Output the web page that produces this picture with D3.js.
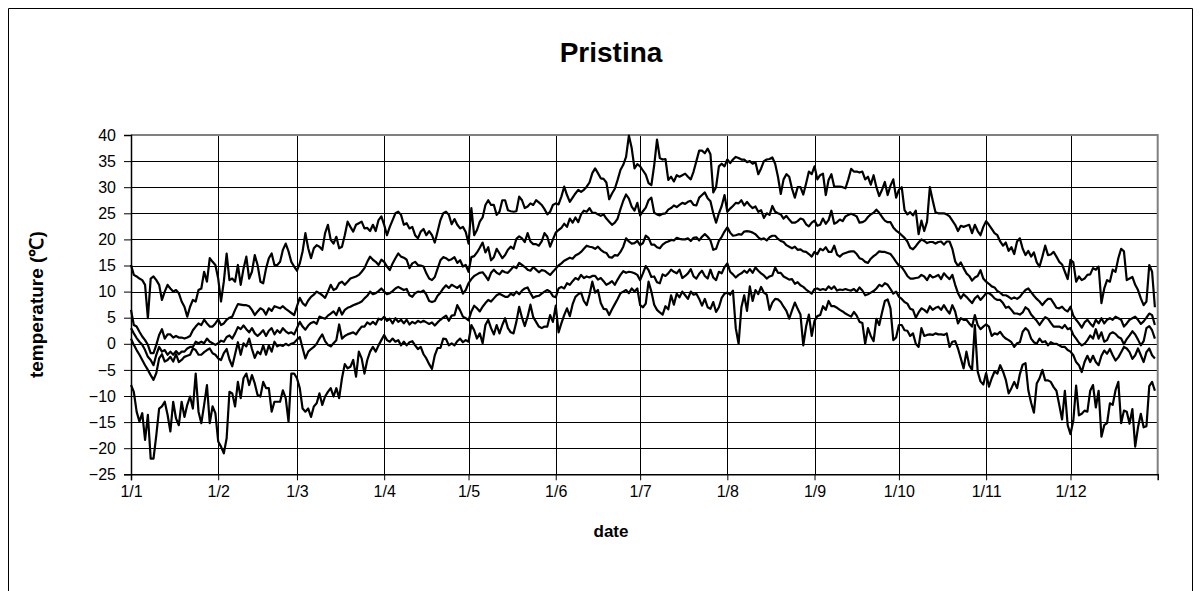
<!DOCTYPE html>
<html><head><meta charset="utf-8">
<script src="https://cdn.jsdelivr.net/npm/d3@7"></script>
<style>body{margin:0;background:#fff}svg{display:block}text{font-family:Arial,"Liberation Sans",sans-serif;fill:#000}</style>
</head><body><svg id="c" width="1202" height="591"></svg>
<script>
const chartTitle = "Pristina";
const xTitle = "date";
const yTitle = "temperature (℃)";
const monthLabels = ["1/1","1/2","1/3","1/4","1/5","1/6","1/7","1/8","1/9","1/10","1/11","1/12"];
const monthStartDays = [0,31,59,90,120,151,181,212,243,273,304,334];
const yTicks = [-25,-20,-15,-10,-5,0,5,10,15,20,25,30,35,40];

const recordHigh = [
15.1,13.2,12.9,12.5,12.2,11.3,4.9,12.5,12.9,12.2,11.3,8.4,10,11.3,10.6,10,10.3,9.7,8.1,7.1,5.2,7.1,8.4,8.1,10.3,10.6,13.8,11.9,16.4,15.7,15.1,12.5,
8.1,11.9,17.3,12.2,12.5,11.9,15.1,11.3,14.4,16.7,12.5,13.8,17.0,15.1,11.9,11.6,14.4,16.4,17.3,15.1,15.1,15.7,18,19.2,17.7,15.7,14.8,14,15.4,17.7,21.2,18.3,16.4,18.3,18.9,
18.6,18,21.2,22.8,19.9,19.2,20.5,18.3,18.6,20.8,23.4,22.4,21.5,22.8,23.1,23.4,22.1,22.2,21.6,22.8,21.6,23.7,24.4,22.8,20.8,22.4,23.7,25,25.3,24.7,22.8,23.1,22.1,22.4,20.8,20.2,
21.5,22,20.8,21.6,20.8,19.4,21.5,23.7,25,25.3,24.7,22.9,23.9,22.8,22.1,22.4,21.4,19.2,26,20.8,21.8,23.4,24.2,26.6,27.5,26.6,26.6,24.7,25.3,27.5,27.5,25.6,25.4,25.3,25.4,
28.2,27.5,26,26.3,26.9,26.6,27.5,27.1,26.6,25.8,24.8,25.3,26.6,26.9,26.7,28.2,30.1,28.5,27.2,28,28.8,29.5,29.1,29.5,30.1,30.9,32.7,33.6,32.7,31.7,31.6,30.9,27.7,28.8,29.7,31.4,
33.3,34.3,35.8,39.9,37.5,33.6,34.4,34.0,33.2,32.4,30.8,30.4,34.2,39.1,35.6,35.3,35.4,31.4,32.0,31.1,32.3,32.0,32.3,32.6,32.0,31.5,33.0,35.0,37.0,37.0,36.5,37.4,36.3,29.0,30.0,
34.0,34.5,34.0,35.3,34.6,35.3,35.8,35.6,35.3,35.3,34.8,35.0,34.5,34.8,32.5,33.6,35.0,35.3,35.4,35.7,34.5,32.0,28.7,31.5,32.5,32.0,29.7,28.0,30.0,30.0,28.6,30.7,33.0,32.5,34.0,31.5,
32.3,32.6,28.5,31.4,32.5,30.1,30.1,30.1,30.0,29.8,31.5,33.5,33.0,33.0,32.8,33.0,31.5,32.0,30.5,32.3,30.0,28.3,29.5,31.0,28.5,30.3,31.5,28.0,29.5,30.0,25.6,24.8,25.2,24.6,25.5,21.0,
23.6,21.6,23.4,30.0,27.5,25.2,25.0,25.0,25.0,24.8,24.4,23.6,22.8,21.6,22.6,22.4,22.6,22.8,21.2,22.8,21.6,20.8,22.4,23.5,22.8,22.0,21.2,20.8,19.6,18.8,19.4,17.8,18.5,17.2,19.6,
20.2,18.2,17.0,17.8,16.7,17.5,15.6,14.8,16.7,18.8,17.0,17.1,17.6,16.7,15.7,15.2,13.8,12.4,16.1,15.6,11.9,12.9,12.2,12.5,13.2,13.3,14.5,14.2,14.8,7.8,10.6,12.2,11.9,14.2,13.8,16.4,18.2,17.7,12.2,12.5,12.8,11.3,10.3,8.7,7.4,8.1,15.1,13.8,7.0
];
const meanHigh = [
6.5,3.6,3.3,2.3,1.4,0.7,-0.2,-1.8,-1.8,-0.2,1.7,2.8,1.0,1.8,1.8,1.2,1.5,1.2,1.2,1.0,1.2,1.5,2.6,3.3,3.9,3.6,4.6,3.9,3.3,3.3,3.9,4.7,
3.6,3.9,4.6,5.0,5.2,6.5,7.6,7.5,7.4,7.4,7.2,6.5,5.5,6.2,6.8,6.5,5.6,6.8,6.3,7.2,7.0,6.8,7.2,6.7,6.3,5.9,5.5,7.2,8.8,7.8,7.3,8.3,9.0,9.4,10.0,
9.7,9.3,8.8,10,11.3,10.3,10.6,11.6,11.9,11.3,11.9,12.5,12.7,12.9,13.2,13.8,14.5,15.7,16.7,16.1,15.7,15.1,16.1,15.7,14.8,14.1,15.4,16.4,17.3,16.7,16.5,16.1,14.5,15.4,15.7,15.1,
15.0,14.8,13.5,12.5,12.2,12.8,14.4,16.0,16.6,16.4,16.0,16.2,16.6,15.5,16.0,14.8,15.1,13.8,16.6,16.8,17.5,18.4,19.4,17.5,18.5,16.0,16.6,18.2,17.3,16.4,17.0,18.0,18.6,18.2,20.1,
20.6,20.2,19.5,21.2,19.6,19.1,19.1,18.8,19.6,21.2,20.5,18.6,20.0,21.3,21.8,22.2,23.0,22.4,24.0,23.2,24.2,23.3,24.8,25.5,25.3,26.0,25.1,25.1,24.8,24.5,24.8,24.0,23.4,22.8,23.2,24.0,
25.8,27.4,28.6,27.8,26.3,25.5,27.0,24.6,25.4,26.1,27.5,28.0,25.1,24.8,24.6,24.9,25.0,25.7,26.0,26.5,26.2,26.6,27.0,26.8,27.2,27.4,26.6,26.5,28.0,28.5,29.0,27.9,27.3,25.0,23.2,
25.0,26.4,28.5,25.3,25.9,26.4,27.0,26.9,27.5,26.5,27.2,26.5,26.0,26.3,25.3,25.6,24.1,25.0,24.7,26.4,25.3,25.0,24.8,24.0,24.5,23.8,23.2,23.2,23.5,24.0,23.8,22.9,22.5,23.2,23.6,22.6,
22.8,24.0,23.0,23.7,25.5,23.0,23.3,23.8,23.5,24.4,24.7,24.9,24.7,24.4,23.2,23.3,23.6,24.3,24.8,25.1,25.7,25.1,24.3,23.6,23.3,23.3,22.3,21.7,21.3,20.8,20.3,19.6,18.4,18.1,18.7,19.4,
20.0,19.7,19.3,19.5,19.5,19.2,19.5,19.6,19.0,19.6,19.6,18.2,15.8,14.9,15.6,14.5,13.5,13.0,12.1,12.7,13.0,14.1,12.5,11.9,11.5,11.0,10.8,10.1,9.8,9.3,9.3,9.0,8.6,8.9,8.6,
9.0,9.7,10.3,10.6,9.9,9.2,8.6,8.1,7.4,8.1,8.6,8.6,7.8,6.9,6.8,7.1,6.5,6.2,7.1,5.4,4.6,3.9,3.1,4.1,4.6,3.9,3.3,4.6,3.9,4.9,3.9,4.6,4.9,4.6,5.2,4.9,4.6,3.3,3.9,4.6,4.9,5.2,4.6,3.8,4.3,5.0,5.8,5.5,3.6
];
const meanTemp = [
3.0,2.0,1.1,0.4,-0.2,-1.2,-2.5,-3.1,-4.1,-2.1,-0.6,-1.5,-1.2,-2.1,-1.5,-2.1,-1.4,-2.0,-1.5,-1.5,-0.9,-0.6,-0.6,0.4,0.1,0.4,0.1,1.0,0.4,0.1,-0.2,0.1,
0.6,0.4,1.3,1.6,1.0,2.0,3.2,2.8,3.5,2.8,2.2,3.0,2.0,1.5,2.0,2.6,1.5,2.5,3.0,1.8,2.6,2.1,3.0,2.4,2.0,2.2,1.8,3.0,4.2,3.3,2.7,3.5,4.0,4.2,3.8,
5.2,5.0,4.8,5.4,5.8,6.2,5.5,6.9,5.6,6.5,6.9,7.1,7.4,7.6,7.8,8.1,8.7,9.2,10,9.5,9.7,10.1,10.6,10,9.5,9.7,10.1,10.6,10.9,10.6,10.3,10.5,9.3,9.0,9.7,10,
9.9,10.2,9.4,8.2,8.0,8.2,9.2,9.8,10.6,11.2,10.7,11.3,11.0,10.7,11.2,9.6,10.3,11.6,12.4,13.0,13.3,13.6,13.7,13.0,12.2,13.6,14.2,13.6,13.3,14.0,13.7,13.6,14.2,14.8,14.5,
15.5,15.1,14.7,14.2,14.0,14.7,14.2,13.7,14.1,14.0,13.6,13.2,13.8,14.4,15.0,15.4,15.9,16.2,16.5,16.3,16.9,17.2,17.6,18.2,18.8,18.6,18.5,18.2,18.6,18.0,17.6,17.4,16.6,16.5,17.0,16.9,
17.6,18.6,20.2,19.6,19.2,19.3,19.7,18.9,19.3,20.7,20.3,19.0,19.0,18.5,18.3,19.0,19.4,19.6,19.9,19.8,20.3,20.1,20.0,20.0,20.2,19.7,20.3,20.4,19.8,20.5,21.0,20.5,19.8,18.0,18.2,
19.7,20.5,21.5,22.3,21.3,20.7,20.8,21.0,20.9,21.5,21.6,21.5,21.3,21.0,20.4,20.0,20.2,19.8,20.4,20.7,20.7,20.1,19.7,19.5,18.9,18.6,18.3,18.6,18.0,18.1,17.7,17.6,17.2,16.7,17.6,17.2,
18.2,17.9,18.5,17.6,17.6,18.8,17.1,16.7,17.2,17.4,17.6,17.7,17.7,17.2,16.4,16.2,15.7,15.5,16.3,16.8,17.2,17.7,17.6,17.6,17.4,17.2,16.5,15.7,15.0,14.7,13.9,13.0,12.5,12.5,12.6,12.7,
13.2,12.9,12.2,13.2,12.7,12.9,13.2,12.4,13.5,12.9,12.4,13.2,11.3,9.7,8.7,9.5,9.0,8.4,7.8,8.7,9.2,8.4,9.0,9.7,9.7,9.3,8.7,8.4,8.4,7.8,6.9,7.1,6.5,5.8,5.8,
5.6,6.0,7.0,6.6,5.6,5.0,4.4,3.6,4.4,5.1,4.8,4.0,3.3,3.3,3.3,3.0,3.6,2.8,3.0,1.7,1.0,0.2,-0.3,0.0,0.7,1.6,1.0,2.8,1.0,2.2,0.4,0.7,1.9,2.2,1.9,1.3,1.0,-0.1,0.9,1.6,2.4,1.8,0.8,-0.3,0.5,3.0,3.4,2.6,1.0
];
const meanLow = [
1.0,-0.2,-1.2,-2.1,-3.1,-4.1,-5.0,-6.0,-6.9,-5.6,-2.8,-2.0,-3.4,-3.1,-2.5,-3.4,-2.0,-3.5,-3.1,-2.5,-2.3,-2.1,-0.9,-1.2,-2.1,-2.1,-1.6,-1.2,-0.9,-1.8,-2.1,-2.8,
-3.1,-1.8,-1.0,-3.0,-4.3,-2.0,0.3,-2.1,0.1,-0.5,1.0,-1.0,-2.7,-1.5,-2.0,-0.3,-2.1,-0.3,-1.5,0.4,-0.5,-0.2,-0.4,0.0,-0.3,0.0,0.2,0.8,1.3,-0.8,-2.8,-1.5,-1.0,-0.6,0.0,
1.0,1.8,0.5,-0.2,-0.5,0.1,0.7,3.7,1.0,1.5,1.8,2.0,2.2,1.8,2.6,3.3,3.3,4.1,3.7,4.2,3.7,4.8,4.6,5.2,4.4,4.8,3.9,4.9,4.2,4.6,3.9,4.6,3.7,4.2,3.9,4.4,
4.1,4.4,4.1,3.8,4.1,3.5,4.1,4.6,5.0,5.4,4.4,5.4,5.5,7.4,6.4,5.2,4.9,4.5,6.2,7.3,6.8,6.2,7.1,7.8,8.4,8.1,8.7,9.3,9.6,9.3,9.0,9.0,9.6,9.3,10.0,
9.5,10.2,10.6,10.8,9.7,8.8,9.1,9.2,9.6,10.0,10.3,10.0,9.1,8.9,10.6,10.9,10.6,11.6,11.3,12.0,12.6,12.3,13.2,12.6,12.9,12.7,13.0,13.0,12.3,12.6,12.0,11.3,11.6,12.0,11.3,12.3,
13.2,13.9,13.6,13.8,13.7,13.5,13.2,12.2,13.5,14.9,14.1,12.8,12.9,11.8,11.6,13.3,13.0,13.5,14.2,13.8,13.5,14.2,12.6,13.0,13.5,14.3,12.9,12.5,13.4,14.0,13.0,12.5,14.2,12.7,12.2,
13.8,13.5,14.7,15.4,13.8,13.3,12.7,13.2,13.5,14.0,13.6,14.3,13.6,14.6,14.0,13.5,13.1,12.5,12.9,13.1,14.6,13.6,13.6,12.9,12.6,12.3,12.4,11.5,11.8,11.2,10.9,10.4,10.0,9.6,10.5,10.6,
10.3,10.5,10.3,11.0,10.5,11.0,10.2,10.4,10.3,10.5,10.3,10.2,10.5,10.0,10.8,10.2,9.3,9.5,9.8,10.1,10.6,11.3,11.0,11.6,11.3,10.5,9.6,10.0,9.0,8.6,8.0,7.7,6.7,6.5,5.0,6.0,
6.8,6.5,6.0,7.2,6.5,6.9,7.1,6.5,7.4,6.5,5.8,7.4,6.2,3.9,4.9,4.6,4.6,3.9,3.3,5.5,3.6,2.8,3.3,3.7,3.3,1.5,2.0,1.8,2.3,1.5,1.0,0.7,0.3,-0.6,0.1,
0.3,2.3,3.0,2.5,1.0,0.3,0.0,1.0,0.3,0.5,-0.3,0.3,0.0,0.0,-0.3,-0.6,-0.6,-1.2,-1.5,-2.2,-3.5,-4.1,-5.4,-3.5,-2.3,-3.5,-2.3,-3.5,-4.1,-2.3,-1.3,-1.9,-1.0,-2.2,-3.2,-2.6,-1.6,-0.6,-0.9,-1.6,-2.9,-2.2,-0.9,-2.2,-3.5,-1.6,-0.9,-2.2,-2.8
];
const recordLow = [
-7.9,-9.2,-13,-14.9,-13.3,-18.4,-13.6,-22,-22,-17.5,-12.4,-12,-11.1,-13.6,-16.8,-11.1,-14.3,-15.6,-11.1,-14,-11.7,-10.1,-12.4,-5.7,-13,-15.2,-11.7,-7.9,-15.2,-12,-13.3,-18.7,
-19.7,-21,-18.1,-9.2,-9.5,-12,-7.3,-10.4,-6.6,-5.7,-7.9,-6,-7.6,-9.8,-10.1,-7.3,-8.5,-8.5,-13,-11.1,-11.1,-11.1,-8.9,-10.4,-14.9,-5.7,-5.7,-6.6,-8.5,-12.4,-13,-12.4,-14,-12,-11.4,
-9.5,-11.7,-10.1,-9.2,-8.5,-10.1,-8.5,-10.4,-6.6,-3.9,-4.7,-4.4,-3.1,-6.3,-1.5,-2.8,-5.7,-3.1,-1.5,-0.6,-1.5,-0.3,0.7,1.7,0.7,0.4,1.0,0.4,0.7,-0.3,0.4,-0.3,0.3,0.5,-0.3,-1.0,
-0.6,-2.0,-2.8,-3.9,-4.8,-2.2,-0.8,-0.8,1.0,0.9,-0.3,0.1,-0.3,0.5,1.0,0.3,0.7,0.4,3.6,2.6,1.0,2.0,0.1,3.6,4.6,3.0,1.8,3.6,2.0,3.6,4.9,3.0,2.2,2.0,4.2,
7.1,5.0,3.4,5.2,7.5,5.1,4.2,3.3,3.0,3.3,3.3,5.5,4.2,7.3,2.2,3.9,5.5,6.8,5.3,7.6,9.0,9.5,9.8,8.2,7.4,9.4,11.9,9.8,10.3,7.8,6.7,6.6,5.5,6.6,7.6,8.6,
9.7,10.0,10.3,9.7,10.6,10.0,10.6,7.4,7.0,7.7,11.9,10.0,7.5,6.5,6.0,5.6,7.2,6.6,9.3,7.5,9.6,8.9,10.0,9.3,8.6,10.0,9.4,9.6,8.6,7.3,8.6,7.0,6.7,8.0,6.1,
7.0,8.8,9.6,9.8,9.4,10.2,3.0,0.0,7.0,9.3,6.3,11.0,8.2,10.3,9.5,10.9,9.8,9.4,6.5,7.9,8.6,8.5,8.0,7.1,6.3,4.8,6.4,7.9,6.7,5.6,-0.3,3.3,5.6,1.5,4.4,5.3,
5.5,7.2,6.5,8.2,7.2,7.2,6.9,6.5,6.2,5.8,5.5,5.2,6.1,5.4,4.2,4.0,0.0,3.0,1.5,0.5,4.8,3.6,6.0,8.2,8.5,6.8,0.7,1.2,3.6,3.6,2.6,2.5,1.5,2.0,0.0,-0.6,
3.0,1.5,1.7,1.8,1.7,2.0,1.8,1.8,1.7,2.0,-0.6,0.4,0.5,-0.9,-2.8,-4.7,-1.5,-4.1,-5.0,3.6,-5.3,-7.2,-7.8,-5.6,-8.2,-6.6,-5.3,-5.7,-4.1,-5.3,-6.9,-9.5,-8.5,-7.3,-8.5,
-5.8,-4.0,-3.7,-8.9,-11.3,-13.2,-7.6,-6.6,-5.0,-7.0,-7.0,-7.3,-8.3,-9.0,-11.7,-14.5,-9.0,-15.6,-17.3,-14.7,-8.0,-13.7,-13.4,-12.8,-13.0,-9.0,-7.9,-12.2,-9.0,-17.8,-15.6,-15.2,-11.4,-11.7,-8.9,-7.3,-15.2,-12.8,-13.0,-15.3,-12.5,-19.7,-16.0,-13.4,-16.0,-15.8,-8.1,-7.3,-9.0
];
const seriesList = [recordHigh, meanHigh, meanTemp, meanLow, recordLow];

const svg = d3.select("#c");
const W = 1202, H = 591;
const L = 131, R = 1157.7, T = 135, B = 474.3;
const x = d3.scaleLinear().domain([0, 365]).range([L, R]);
const y = d3.scaleLinear().domain([-25, 40]).range([B, T]);

svg.append("rect").attr("width", W).attr("height", H).attr("fill", "#fff");
// outer chart frame
svg.append("path").attr("d", `M8.5,${H} V8.5 H1192.5 V${H}`).attr("fill", "none").attr("stroke", "#000").attr("stroke-width", 1);

// title
svg.append("text").attr("x", 611).attr("y", 62).attr("text-anchor", "middle")
  .style("font-size", "28px").style("font-weight", "bold").text(chartTitle);

// gridlines
const g = svg.append("g");
g.selectAll(".hg").data(yTicks).join("line")
  .attr("x1", L).attr("x2", R).attr("y1", d => Math.round(y(d)) + 0.5).attr("y2", d => Math.round(y(d)) + 0.5)
  .attr("stroke", "#000").attr("stroke-width", 1);
g.selectAll(".vg").data(monthStartDays.slice(1)).join("line")
  .attr("x1", d => Math.round(x(d)) + 0.5).attr("x2", d => Math.round(x(d)) + 0.5).attr("y1", T).attr("y2", B)
  .attr("stroke", "#000").attr("stroke-width", 1);

// plot border (top/right gray)
svg.append("path").attr("d", `M${L},${T} H${R} V${B}`).attr("fill", "none").attr("stroke", "#808080").attr("stroke-width", 2);

// axes
const yAxis = d3.axisLeft(y).tickValues(yTicks).tickSize(7).tickPadding(8).tickFormat(d3.format("d"));
const ya = svg.append("g").attr("transform", `translate(${L},0)`).call(yAxis);
const xAxis = d3.axisBottom(x).tickValues(monthStartDays).tickSize(6).tickPadding(5).tickFormat((d, i) => monthLabels[i]);
const xa = svg.append("g").attr("transform", `translate(0,${B})`).call(xAxis);
[ya, xa].forEach(a => {
  a.select(".domain").attr("stroke", "#000").attr("stroke-width", 1.5);
  a.selectAll(".tick line").attr("stroke", "#000");
  a.selectAll(".tick text").style("font-size", "16px").style("font-family", "Arial, 'Liberation Sans', sans-serif").attr("fill", "#000");
});

// axis titles
svg.append("text").attr("transform", `translate(43,${(T + B) / 2}) rotate(-90)`).attr("text-anchor", "middle")
  .style("font-size", "19px").style("font-weight", "bold").text(yTitle);
svg.append("text").attr("x", 611).attr("y", 537).attr("text-anchor", "middle")
  .style("font-size", "17px").style("font-weight", "bold").text(xTitle);

// series lines
const line = d3.line().x((d, i) => x(i)).y(d => y(d));
svg.append("g").selectAll("path").data(seriesList).join("path")
  .attr("d", line).attr("fill", "none").attr("stroke", "#000").attr("stroke-width", 2.2).attr("stroke-linejoin", "round");
</script></body></html>
